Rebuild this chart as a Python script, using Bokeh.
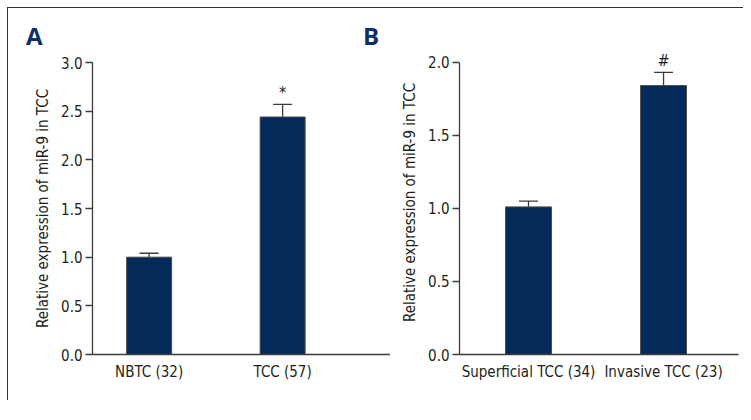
from bokeh.plotting import figure
from bokeh.models import (ColumnDataSource, Range1d, FixedTicker, Whisker, TeeHead,
                          NumeralTickFormatter, Div)
from bokeh.layouts import row, column
from bokeh.embed import file_html
from bokeh.resources import INLINE
from bokeh.core.properties import value

# ---- data ----
cats_a = ["NBTC (32)", "TCC (57)"]
means_a = [1.00, 2.44]
errs_a = [0.04, 0.13]
marks_a = ["", "*"]

cats_b = ["Superficial TCC (34)", "Invasive TCC (23)"]
means_b = [1.01, 1.84]
errs_b = [0.04, 0.09]
marks_b = ["", "#"]

yticks_a = [0.0, 0.5, 1.0, 1.5, 2.0, 2.5, 3.0]
yticks_b = [0.0, 0.5, 1.0, 1.5, 2.0]
ylabel = "Relative expression of miR-9 in TCC"

FONT = "'Noto Sans Condensed', 'DejaVu Sans Condensed', 'Liberation Sans'"
FS = "15px"
BAR = "#042a5a"
AX = "#3c3c3c"
TXT = "#231f20"
NAVY = "#0d2f63"


def panel(cats, means, errs, marks, yticks, ymax, ytop, xr, width, height, bw,
          border_left, border_right, margin):
    xs = list(range(len(cats)))
    tops = [m + e for m, e in zip(means, errs)]
    src = ColumnDataSource(dict(x=xs, mean=means, top=tops, mark=marks))
    p = figure(width=width, height=height, output_backend="svg", toolbar_location=None,
               title=None, margin=margin,
               x_range=Range1d(*xr), y_range=Range1d(0, ytop),
               min_border_left=border_left, min_border_right=border_right,
               min_border_top=12, min_border_bottom=46)
    p.outline_line_color = None
    p.grid.visible = False
    p.background_fill_color = "white"
    p.border_fill_color = None

    p.vbar(x="x", top="mean", width=bw, source=src, fill_color=BAR,
           line_color="#4a4a4a", line_width=1)
    w = Whisker(base="x", lower="mean", upper="top", source=src, dimension="height",
                line_color=AX, line_width=1.3,
                upper_head=TeeHead(size=19, line_color=AX, line_width=1.3),
                lower_head=None)
    p.add_layout(w)
    p.text(x="x", y="top", text="mark", source=src, y_offset=-12,
           text_align="center", text_baseline="middle", text_font=value(FONT),
           text_font_size="16px", text_color=TXT)

    ya = p.yaxis[0]
    ya.bounds = (0, ymax)
    ya.ticker = FixedTicker(ticks=yticks)
    ya.formatter = NumeralTickFormatter(format="0.0")
    ya.minor_tick_line_color = None
    ya.major_tick_in = 0
    ya.major_tick_out = 7
    ya.major_tick_line_color = AX
    ya.axis_line_color = AX
    ya.axis_line_width = 1.3
    ya.major_tick_line_width = 1.3
    ya.major_label_standoff = 3
    ya.major_label_text_font = FONT
    ya.major_label_text_font_size = FS
    ya.major_label_text_color = TXT
    ya.axis_label = ylabel
    ya.axis_label_text_font = FONT
    ya.axis_label_text_font_size = FS
    ya.axis_label_text_font_style = "normal"
    ya.axis_label_text_color = TXT
    ya.axis_label_standoff = 6

    xa = p.xaxis[0]
    xa.ticker = FixedTicker(ticks=xs)
    xa.major_label_overrides = {i: c for i, c in zip(xs, cats)}
    xa.major_tick_line_color = None
    xa.minor_tick_line_color = None
    xa.axis_line_color = AX
    xa.axis_line_width = 1.3
    xa.major_label_standoff = 2
    xa.major_label_text_font = FONT
    xa.major_label_text_font_size = FS
    xa.major_label_text_color = TXT
    return p


pa = panel(cats_a, means_a, errs_a, marks_a, yticks_a, 3.0, 3.0,
           (-0.424, 1.808), 382, 350, 0.337, 84, 0, 0)
pb = panel(cats_b, means_b, errs_b, marks_b, yticks_b, 2.0, 2.08,
           (-0.511, 1.555), 353, 362, 0.34, 69, 5, (-12, 0, 0, 0))


def letter(txt, width, left):
    html = (f'<div style="margin-left:{left}px;margin-top:16px;'
            f"font:bold 24px 'Open Sans';line-height:1;color:{NAVY}\">{txt}</div>")
    return Div(text=html, width=width, height=42, margin=0)


letters = row(letter("A", 355, 18), letter("B", 380, 0))

layout = column(letters, row(pa, pb),
                styles={"border-top": "1.5px solid #333",
                        "border-left": "1.5px solid #333",
                        "margin-left": "7px", "margin-top": "7px"})

open("out.html", "w").write(file_html(layout, INLINE))
